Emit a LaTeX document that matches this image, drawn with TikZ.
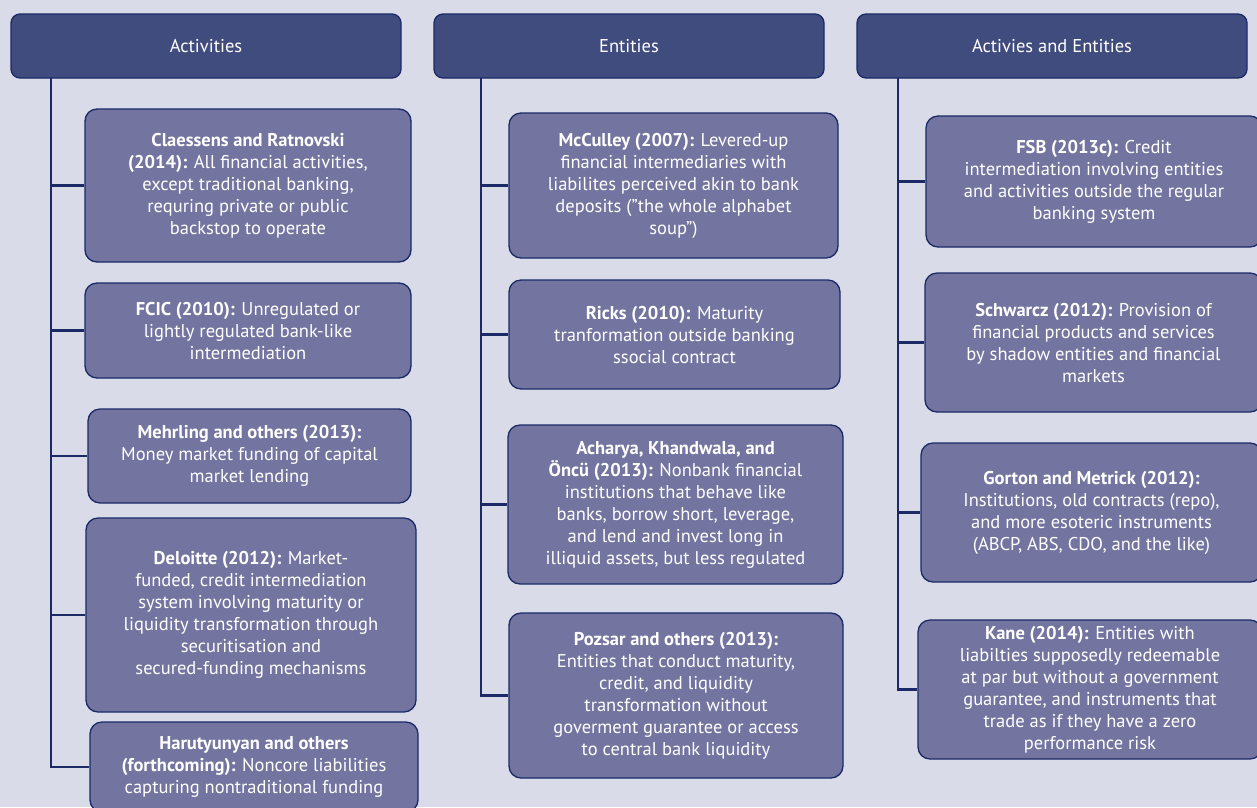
\documentclass[tikz,border=0pt]{standalone}
\usepackage{fontspec}
\setmainfont{PT Sans}
\usepackage{tikz}
\definecolor{bgc}{RGB}{217,219,232}
\definecolor{headc}{RGB}{65,76,126}
\definecolor{boxc}{RGB}{115,117,160}
\definecolor{linec}{RGB}{27,42,102}

\begin{document}
\begin{tikzpicture}
      [x=1pt,y=-1pt,
       head/.style={rectangle,draw=linec,line width=1.3pt,fill=headc,rounded corners=9pt,
         text=white,minimum width=390pt,minimum height=64pt,font=\fontsize{18.5}{22}\selectfont},
       item/.style 2 args={rectangle,draw=linec,line width=1.3pt,fill=boxc,rounded corners=12pt,
         text=white,align=center,inner sep=0pt,minimum width=#1pt,minimum height=#2pt,
         font=\fontsize{18.5}{22}\selectfont},
       link/.style={draw=linec,line width=2.6pt}]
      \fill[bgc] (0,0) rectangle (1257,807);
      \useasboundingbox (0,0) rectangle (1257,807);
      % headers
      \node[head] (hA) at (206,46) {Activities};
      \node[head] (hE) at (629,46) {Entities};
      \node[head] (hB) at (1052,46) {Activies and Entities};
      % activities
      \node[item={326}{153}] (a1) at (248,185.5)
        {\textbf{Claessens and Ratnovski}\\\textbf{(2014):} All financial activities,\\
         except traditional banking,\\requring private or public\\backstop to operate};
      \node[item={326}{95}] (a2) at (248,330.5)
        {\textbf{FCIC (2010):} Unregulated or\\lightly regulated bank-like\\intermediation};
      \node[item={323}{94}] (a3) at (249.5,456)
        {\textbf{Mehrling and others (2013):}\\Money market funding of capital\\market lending};
      \node[item={330}{194}] (a4) at (251,615)
        {\textbf{Deloitte (2012):} Market-\\funded, credit intermediation\\system involving maturity or\\
         liquidity transformation through\\securitisation and\\secured-funding mechanisms};
      \node[item={328}{90}] (a5) at (254,767)
        {\textbf{Harutyunyan and others}\\\textbf{(forthcoming):} Noncore liabilities\\capturing nontraditional funding};
      % entities
      \node[item={329}{145}] (b1) at (673.5,185.5)
        {\textbf{McCulley (2007):} Levered-up\\financial intermediaries with\\liabilites perceived akin to bank\\
         deposits (”the whole alphabet\\soup”)};
      \node[item={331}{109}] (b2) at (674.5,334.5)
        {\textbf{Ricks (2010):} Maturity\\tranformation outside banking\\ssocial contract};
      \node[item={335}{159}] (b3) at (675.5,504.5)
        {\textbf{Acharya, Khandwala, and}\\\textbf{Öncü (2013):} Nonbank financial\\institutions that behave like\\
         banks, borrow short, leverage,\\and lend and invest long in\\illiquid assets, but less regulated};
      \node[item={334}{165}] (b4) at (676,695.5)
        {\textbf{Pozsar and others (2013):}\\Entities that conduct maturity,\\credit, and liquidity\\
         transformation without\\goverment guarantee or access\\to central bank liquidity};
      % both
      \node[item={336}{131}] (c1) at (1094,181.5)
        {\textbf{FSB (2013c):} Credit\\intermediation involving entities\\and activities outside the regular\\banking system};
      \node[item={337}{139}] (c2) at (1093.5,342.5)
        {\textbf{Schwarcz (2012):} Provision of\\financial products and services\\by shadow entities and financial\\markets};
      \node[item={341}{139}] (c3) at (1091.5,512.5)
        {\textbf{Gorton and Metrick (2012):}\\Institutions, old contracts (repo),\\and more esoteric instruments\\
         (ABCP, ABS, CDO, and the like)};
      \node[item={344}{139}] (c4) at (1090,689.5)
        {\textbf{Kane (2014):} Entities with\\liabilties supposedly redeemable\\at par but without a government\\
         guarantee, and instruments that\\trade as if they have a zero\\performance risk};
      % trunks
      \coordinate (tA) at (51,78);
      \coordinate (tE) at (481,78);
      \coordinate (tB) at (898,78);
      \draw[link] (tA) |- (a5.west);
      \foreach \n in {a1,a2,a3,a4} \draw[link] (tA |- \n.west) -- (\n.west);
      \draw[link] (tE) |- (b4.west);
      \foreach \n in {b1,b2,b3} \draw[link] (tE |- \n.west) -- (\n.west);
      \draw[link] (tB) |- (c4.west);
      \foreach \n in {c1,c2,c3} \draw[link] (tB |- \n.west) -- (\n.west);
\end{tikzpicture}
\end{document}
